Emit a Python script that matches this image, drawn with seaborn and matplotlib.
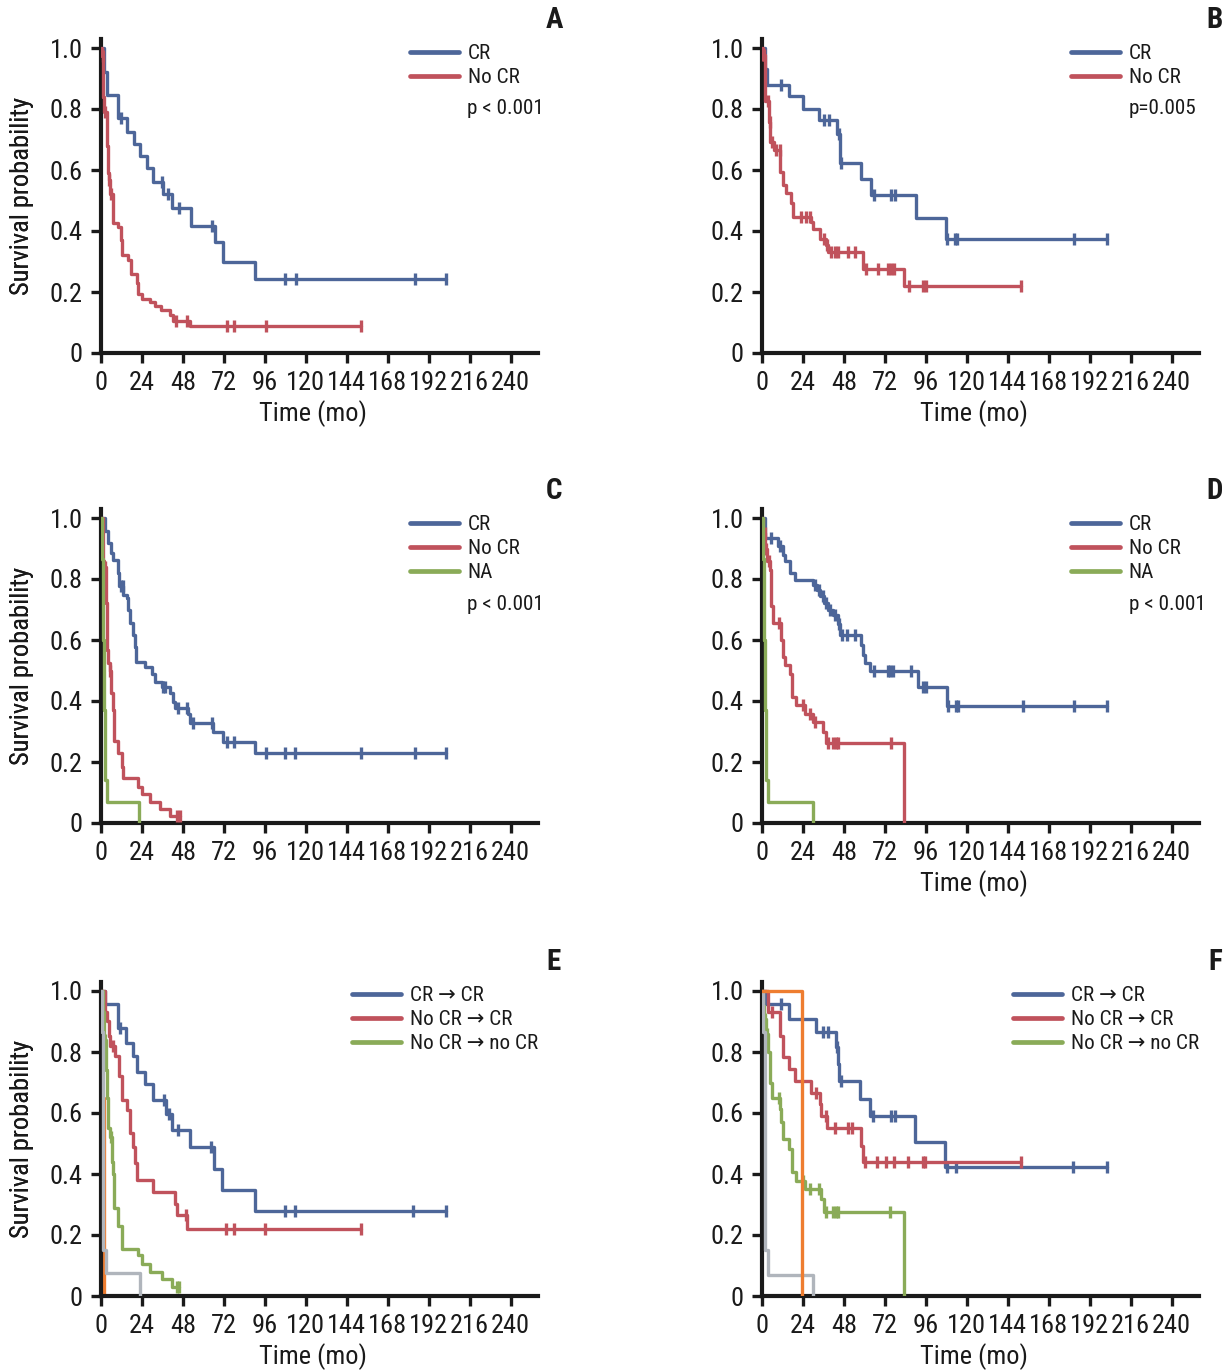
import numpy as np
import matplotlib
matplotlib.use("Agg")
import matplotlib.pyplot as plt
from matplotlib import font_manager as fm
import seaborn as sns
import pandas as pd

# ---------------- DATA (months, survival probability) ----------------
x_ticks = [0, 24, 48, 72, 96, 120, 144, 168, 192, 216, 240]
y_ticks = [0, 0.2, 0.4, 0.6, 0.8, 1.0]
y_tick_labels = ["0", "0.2", "0.4", "0.6", "0.8", "1.0"]

# Panel A
A_CR_t = [1.5, 3.3, 10.1, 15.0, 19.3, 22.8, 27.1, 30.6, 36.5, 41.4, 52.5, 66.7, 71.2, 90.1]
A_CR_s = [0.92, 0.847, 0.77, 0.726, 0.686, 0.646, 0.606, 0.562, 0.521, 0.474, 0.417, 0.363, 0.299, 0.241]
A_CR_c = [11.5, 35.5, 39.4, 45.7, 64.8, 107.7, 114.1, 183.8, 202.0]
A_NCR_t = [0.6, 1.4, 2.0, 3.3, 4.3, 4.6, 5.5, 7.2, 10.1, 11.5, 12.5, 16.0, 17.4, 20.9, 21.9, 23.8, 28.7, 31.6, 34.9, 40.4, 42.3, 52.1]
A_NCR_s = [0.973, 0.84, 0.79, 0.68, 0.59, 0.567, 0.52, 0.425, 0.414, 0.37, 0.32, 0.305, 0.26, 0.228, 0.195, 0.178, 0.168, 0.153, 0.14, 0.124, 0.105, 0.087]
A_NCR_c = [1.0, 2.3, 4.9, 5.9, 43.9, 50.1, 73.6, 77.8, 96.4, 152.6]

# Panel B
B_CR_t = [1.6, 2.9, 15.8, 24.0, 33.2, 43.9, 45.8, 57.8, 63.7, 90.3, 107.5]
B_CR_s = [0.93, 0.879, 0.841, 0.80, 0.765, 0.717, 0.622, 0.57, 0.518, 0.444, 0.373]
B_CR_c = [11.3, 36.1, 39.2, 45.3, 46.5, 65.4, 75.7, 78.2, 108.5, 112.8, 114.1, 183.0, 202.0]
B_NCR_t = [0.4, 1.6, 4.0, 4.9, 6.8, 10.7, 12.3, 14.2, 17.2, 18.1, 28.9, 29.9, 34.1, 37.3, 38.6, 59.1, 82.9]
B_NCR_s = [0.978, 0.825, 0.756, 0.693, 0.666, 0.595, 0.551, 0.524, 0.491, 0.447, 0.43, 0.406, 0.373, 0.354, 0.332, 0.277, 0.219]
B_NCR_c = [0.6, 0.9, 3.3, 4.5, 6.0, 8.4, 10.3, 23.0, 25.9, 27.9, 36.1, 38.1, 40.6, 42.5, 44.5, 50.3, 54.2,
           60.7, 67.9, 73.8, 75.7, 77.1, 86.0, 94.2, 96.2, 151.8]

# Panel C
C_CR_t = [2.3, 4.3, 5.7, 6.8, 10.1, 10.5, 13.1, 15.4, 16.0, 17.0, 18.5, 19.9, 20.5, 25.7, 29.7, 31.6, 35.5,
          40.4, 41.9, 43.3, 51.1, 52.1, 65.8, 71.6, 90.1]
C_CR_s = [0.956, 0.918, 0.885, 0.863, 0.82, 0.778, 0.748, 0.737, 0.70, 0.655, 0.617, 0.578, 0.529, 0.513, 0.49,
          0.463, 0.447, 0.425, 0.398, 0.376, 0.359, 0.329, 0.299, 0.266, 0.23]
C_CR_c = [11.5, 12.7, 36.5, 37.5, 45.3, 50.1, 54.0, 64.8, 74.0, 77.8, 96.4, 107.7, 113.9, 152.2, 183.8, 202.3]
C_NCR_t = [1.4, 2.0, 2.9, 3.7, 4.3, 5.0, 5.7, 6.8, 7.6, 10.1, 12.1, 13.1, 21.9, 23.8, 28.7, 34.5, 40.4]
C_NCR_s = [0.86, 0.84, 0.72, 0.567, 0.523, 0.497, 0.425, 0.37, 0.27, 0.228, 0.184, 0.146, 0.118, 0.096, 0.069, 0.047, 0.022]
C_NCR_c = [2.3, 5.3, 44.7, 46.3]
C_NA_t = [0.8, 1.2, 1.6, 2.3, 3.3, 22.4]
C_NA_s = [0.867, 0.6, 0.37, 0.14, 0.069, 0.0]
C_NA_c = []

# Panel D
D_CR_t = [1.6, 9.4, 12.3, 13.3, 16.2, 19.1, 29.9, 32.2, 34.0, 36.5, 38.6, 41.5, 44.5, 45.5, 58.1, 59.1, 60.1,
          63.0, 91.3, 108.5]
D_CR_s = [0.934, 0.907, 0.88, 0.858, 0.82, 0.797, 0.781, 0.765, 0.743, 0.72, 0.70, 0.682, 0.653, 0.617, 0.584,
          0.551, 0.524, 0.50, 0.447, 0.383]
D_CR_c = [5.5, 10.7, 31.2, 33.2, 35.7, 37.6, 39.6, 42.5, 45.0, 47.0, 49.8, 54.2, 65.9, 73.8, 74.7, 76.7, 87.4,
          94.2, 96.2, 109.0, 113.4, 114.7, 152.8, 183.0, 202.0]
D_NCR_t = [0.8, 2.0, 3.0, 4.5, 5.5, 6.4, 11.3, 12.3, 13.3, 16.2, 17.8, 20.1, 25.0, 29.9, 35.7, 37.6, 82.9]
D_NCR_s = [0.95, 0.90, 0.858, 0.83, 0.71, 0.655, 0.60, 0.545, 0.518, 0.49, 0.414, 0.387, 0.359, 0.332, 0.299, 0.263, 0.0]
D_NCR_c = [1.5, 2.5, 4.0, 9.9, 24.0, 27.9, 30.8, 38.6, 41.5, 43.5, 44.5, 75.7]
D_NA_t = [0.8, 1.2, 1.6, 2.3, 3.3, 29.9]
D_NA_s = [0.867, 0.6, 0.37, 0.14, 0.069, 0.0]
D_NA_c = []

# Panel E
E_CC_t = [2.3, 10.1, 14.6, 18.9, 20.9, 25.8, 30.2, 37.8, 41.4, 52.1, 66.3, 71.0, 90.1]
E_CC_s = [0.956, 0.878, 0.83, 0.788, 0.733, 0.695, 0.643, 0.597, 0.543, 0.488, 0.418, 0.347, 0.28]
E_CC_c = [11.1, 37.0, 39.6, 45.3, 64.4, 107.7, 113.9, 182.8, 202.3]
E_NC_t = [2.3, 3.7, 4.9, 5.3, 8.2, 10.7, 12.1, 15.4, 17.0, 18.9, 19.9, 20.9, 30.6, 43.3, 44.3, 50.5]
E_NC_s = [0.93, 0.90, 0.853, 0.82, 0.788, 0.72, 0.643, 0.61, 0.535, 0.49, 0.436, 0.38, 0.341, 0.303, 0.267, 0.22]
E_NC_c = [6.8, 49.8, 73.2, 77.9, 96.0, 152.6]
E_NN_t = [1.0, 2.0, 2.9, 3.3, 4.3, 5.0, 6.2, 6.8, 7.6, 10.1, 12.5, 21.9, 23.8, 28.7, 35.5, 41.4]
E_NN_s = [0.93, 0.84, 0.74, 0.65, 0.55, 0.52, 0.44, 0.40, 0.29, 0.23, 0.155, 0.133, 0.106, 0.078, 0.057, 0.03]
E_NN_c = [2.3, 5.8, 44.7, 45.9]
E_OR_t = [0.6, 2.0]
E_OR_s = [0.65, 0.0]
E_GR_t = [0.6, 1.4, 2.8, 22.8]
E_GR_s = [0.867, 0.15, 0.075, 0.0]

# Panel F
F_CC_t = [2.1, 15.8, 31.8, 43.1, 44.7, 45.3, 57.2, 63.0, 89.8, 107.2]
F_CC_s = [0.956, 0.909, 0.864, 0.815, 0.76, 0.706, 0.645, 0.589, 0.504, 0.422]
F_CC_c = [11.3, 35.7, 38.6, 44.1, 46.0, 64.9, 75.7, 77.7, 108.3, 113.4, 182.1, 202.0]
F_NC_t = [3.5, 10.3, 12.3, 15.8, 19.1, 28.9, 33.8, 34.7, 38.0, 58.1, 59.1]
F_NC_s = [0.93, 0.853, 0.782, 0.743, 0.706, 0.667, 0.629, 0.591, 0.55, 0.493, 0.438]
F_NC_c = [5.9, 31.8, 37.3, 42.5, 50.3, 52.9, 60.1, 67.3, 72.8, 77.1, 85.5, 94.2, 95.2, 151.8]
F_NN_t = [0.8, 1.4, 2.4, 3.5, 4.9, 6.0, 10.3, 11.1, 12.1, 15.8, 17.8, 20.1, 25.0, 34.7, 36.1, 82.9]
F_NN_s = [0.95, 0.907, 0.86, 0.80, 0.70, 0.65, 0.613, 0.57, 0.515, 0.482, 0.405, 0.378, 0.35, 0.318, 0.277, 0.0]
F_NN_c = [2.0, 3.0, 9.9, 24.0, 27.9, 33.2, 37.6, 41.6, 43.1, 44.5, 74.9]
F_OR_t = [23.6]
F_OR_s = [0.0]
F_GR_t = [0.6, 1.5, 3.5, 29.8]
F_GR_s = [0.867, 0.15, 0.07, 0.0]

# ---------------- STYLE ----------------
BLUE = "#4d6699"
RED = "#c0525c"
GREEN = "#8aab58"
ORANGE = "#ee7d30"
GRAY = "#b0b5bc"
INK = "#1a1a1a"

sns.set_style("ticks")

# choose a condensed font if one is installed
cond_family = None
cond_stretch = "normal"
pref = ["Liberation Sans Narrow", "Roboto Condensed", "Open Sans Condensed", "Noto Sans Condensed",
        "DejaVu Sans Condensed", "Noto Sans Display"]
names = {f.name for f in fm.fontManager.ttflist}
for p in pref:
    if p in names:
        cond_family = p
        break
if cond_family is None:
    for f in fm.fontManager.ttflist:
        st = str(f.stretch).lower()
        fn = f.fname.lower()
        if ("condensed" in st or "condensed" in fn or "narrow" in fn) and "bold" not in fn \
                and "italic" not in fn and "oblique" not in fn:
            cond_family = f.name
            cond_stretch = "condensed"
            break

if cond_family is not None:
    plt.rcParams['font.family'] = [cond_family, 'DejaVu Sans']
    plt.rcParams['font.stretch'] = cond_stretch
    FS_TICK, FS_LAB, FS_LEG, FS_LET = 19, 19, 15.2, 21
else:
    plt.rcParams['font.family'] = ['Liberation Sans', 'DejaVu Sans']
    FS_TICK, FS_LAB, FS_LEG, FS_LET = 15.5, 16, 13, 20
plt.rcParams['axes.unicode_minus'] = False

W, H = 1231, 1372
fig = plt.figure(figsize=(W / 100, H / 100), dpi=100)

AX_W = 437
YSCALE = 305
YMAX = 1.03
AX_H = YMAX * YSCALE


def step_frame(t, s, c):
    t = list(t)
    s = list(s)
    end = t[-1] if (len(s) and s[-1] == 0) else max(list(c) + t + [0])
    xs = [0.0] + t + [end]
    ys = [1.0] + s + [s[-1] if s else 1.0]
    return pd.DataFrame({"time": xs, "surv": ys})


def surv_at(t, s, times):
    t = np.asarray([0.0] + list(t))
    s = np.asarray([1.0] + list(s))
    idx = np.searchsorted(t, np.asarray(times, dtype=float), side="right") - 1
    return s[idx]


def draw_series(ax, t, s, c, color, z=2):
    df = step_frame(t, s, c)
    sns.lineplot(data=df, x="time", y="surv", ax=ax, color=color, lw=2.4,
                 drawstyle="steps-post", estimator=None, sort=False, zorder=z)
    if len(c):
        ax.plot(c, surv_at(t, s, c), ls="none", marker="|", ms=8, mew=2.4,
                color=color, zorder=z)


def make_ax(left_px, zero_px):
    rect = [left_px / W, 1 - zero_px / H, AX_W / W, AX_H / H]
    ax = fig.add_axes(rect)
    return ax


def style_ax(ax, left_px):
    ax.set_xlim(0, 256)
    ax.set_ylim(0, YMAX)
    ax.set_xticks(x_ticks)
    ax.set_xticklabels([str(v) for v in x_ticks])
    ax.set_yticks(y_ticks)
    ax.set_yticklabels(y_tick_labels)
    for sp in ["top", "right"]:
        ax.spines[sp].set_visible(False)
    for sp in ["left", "bottom"]:
        ax.spines[sp].set_linewidth(3.0)
        ax.spines[sp].set_color(INK)
    ax.tick_params(axis="both", direction="out", length=7, width=2.4,
                   labelsize=FS_TICK, pad=6, color=INK, labelcolor=INK)
    ax.set_ylabel("Survival probability", fontsize=FS_LAB, color=INK)
    ax.yaxis.set_label_coords((34 - left_px) / AX_W, 0.5)
    ax.set_xlabel("")


def add_xlabel(ax):
    ax.set_xlabel("Time (mo)", fontsize=FS_LAB, color=INK)
    ax.xaxis.set_label_coords(0.485, -0.150)


def add_legend(ax, handles_labels, x_px, top_px):
    from matplotlib.lines import Line2D
    hs = [Line2D([0], [0], color=col, lw=3.4) for col, _ in handles_labels]
    ls = [lab for _, lab in handles_labels]
    leg = ax.legend(hs, ls, loc="upper left", bbox_to_anchor=(x_px / W, 1 - top_px / H),
                    bbox_transform=fig.transFigure, frameon=False, fontsize=FS_LEG,
                    handlelength=2.45 * 14.5 / FS_LEG, handletextpad=0.4, labelspacing=0.24,
                    borderpad=0, borderaxespad=0)
    for txt in leg.get_texts():
        txt.set_color(INK)
    return leg


LEFT1, LEFT2 = 101, 762
ROWS = [353, 823, 1296]

# ---- Panel A
axA = make_ax(LEFT1, ROWS[0])
draw_series(axA, A_CR_t, A_CR_s, A_CR_c, BLUE)
draw_series(axA, A_NCR_t, A_NCR_s, A_NCR_c, RED, 3)
style_ax(axA, LEFT1)
add_xlabel(axA)
add_legend(axA, [(BLUE, "CR"), (RED, "No CR")], 410, 44)
fig.text(467 / W, 1 - 108 / H, "p < 0.001", fontsize=FS_LEG, va="center", ha="left", color=INK)

# ---- Panel B
axB = make_ax(LEFT2, ROWS[0])
draw_series(axB, B_CR_t, B_CR_s, B_CR_c, BLUE)
draw_series(axB, B_NCR_t, B_NCR_s, B_NCR_c, RED, 3)
style_ax(axB, LEFT2)
add_xlabel(axB)
add_legend(axB, [(BLUE, "CR"), (RED, "No CR")], 1071, 44)
fig.text(1129 / W, 1 - 108 / H, "p=0.005", fontsize=FS_LEG, va="center", ha="left", color=INK)

# ---- Panel C
axC = make_ax(LEFT1, ROWS[1])
draw_series(axC, C_CR_t, C_CR_s, C_CR_c, BLUE)
draw_series(axC, C_NCR_t, C_NCR_s, C_NCR_c, RED, 3)
draw_series(axC, C_NA_t, C_NA_s, C_NA_c, GREEN, 4)
style_ax(axC, LEFT1)
add_legend(axC, [(BLUE, "CR"), (RED, "No CR"), (GREEN, "NA")], 410, 515)
fig.text(467 / W, 1 - 604 / H, "p < 0.001", fontsize=FS_LEG, va="center", ha="left", color=INK)

# ---- Panel D
axD = make_ax(LEFT2, ROWS[1])
draw_series(axD, D_CR_t, D_CR_s, D_CR_c, BLUE)
draw_series(axD, D_NCR_t, D_NCR_s, D_NCR_c, RED, 3)
draw_series(axD, D_NA_t, D_NA_s, D_NA_c, GREEN, 4)
style_ax(axD, LEFT2)
add_xlabel(axD)
add_legend(axD, [(BLUE, "CR"), (RED, "No CR"), (GREEN, "NA")], 1071, 515)
fig.text(1129 / W, 1 - 604 / H, "p < 0.001", fontsize=FS_LEG, va="center", ha="left", color=INK)

# ---- Panel E
axE = make_ax(LEFT1, ROWS[2])
draw_series(axE, E_OR_t, E_OR_s, [], ORANGE, 1)
draw_series(axE, E_CC_t, E_CC_s, E_CC_c, BLUE, 2)
draw_series(axE, E_NC_t, E_NC_s, E_NC_c, RED, 3)
draw_series(axE, E_NN_t, E_NN_s, E_NN_c, GREEN, 4)
draw_series(axE, E_GR_t, E_GR_s, [], GRAY, 5)
style_ax(axE, LEFT1)
add_xlabel(axE)
add_legend(axE, [(BLUE, "CR \u2192 CR"), (RED, "No CR \u2192 CR"), (GREEN, "No CR \u2192 no CR")], 352, 986)

# ---- Panel F
axF = make_ax(LEFT2, ROWS[2])
draw_series(axF, F_CC_t, F_CC_s, F_CC_c, BLUE, 2)
draw_series(axF, F_NC_t, F_NC_s, F_NC_c, RED, 3)
draw_series(axF, F_NN_t, F_NN_s, F_NN_c, GREEN, 4)
draw_series(axF, F_GR_t, F_GR_s, [], GRAY, 5)
draw_series(axF, F_OR_t, F_OR_s, [], ORANGE, 6)
style_ax(axF, LEFT2)
add_xlabel(axF)
add_legend(axF, [(BLUE, "CR \u2192 CR"), (RED, "No CR \u2192 CR"), (GREEN, "No CR \u2192 no CR")], 1013, 986)

# panel letters
for lab, xp, yp in [("A", 554, 20), ("B", 1215, 20), ("C", 554, 491),
                    ("D", 1215, 491), ("E", 554, 962), ("F", 1215, 962)]:
    fig.text(xp / W, 1 - yp / H, lab, fontsize=FS_LET, fontweight="bold",
             ha="center", va="center", color=INK)

fig.savefig("out.png", dpi=100)
